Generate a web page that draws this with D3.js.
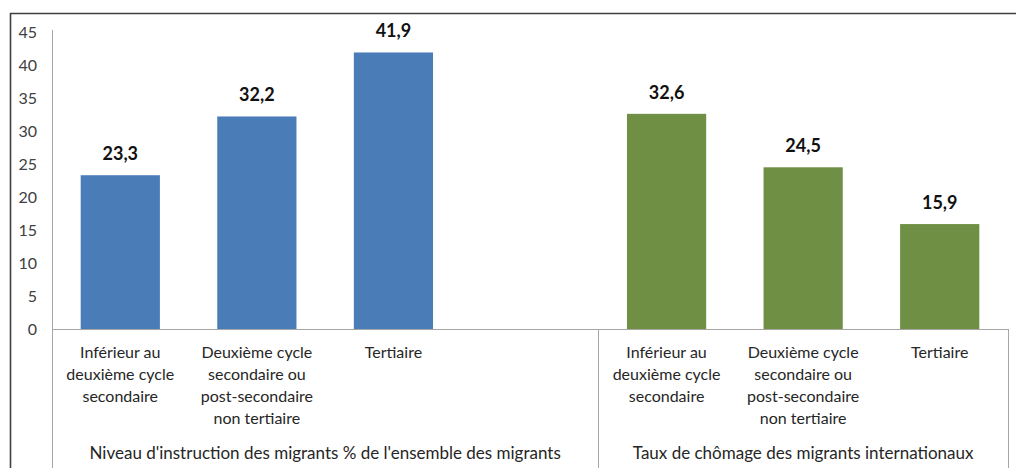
<!DOCTYPE html>
<html>
<head>
<meta charset="utf-8">
<script src="https://cdn.jsdelivr.net/npm/d3@7"></script>
<style>
  body { margin: 0; background: #fff; }
  svg { display: block; font-family: Lato, "Open Sans", sans-serif; }
</style>
</head>
<body>
<div id="chart"></div>
<script>
// data
var groupNames = ["Niveau d'instruction des migrants % de l'ensemble des migrants",
                  "Taux de chômage des migrants internationaux"];
var categoryLines = [
  ["Inférieur au", "deuxième cycle", "secondaire"],
  ["Deuxième cycle", "secondaire ou", "post-secondaire", "non tertiaire"],
  ["Tertiaire"]
];
var valuesInstruction = [23.3, 32.2, 41.9];
var valuesChomage = [32.6, 24.5, 15.9];
var yTicks = [0, 5, 10, 15, 20, 25, 30, 35, 40, 45];
var groupColors = ["#4a7cb8", "#6f8f45"];

/* ---------------------------------------------------------------*/
var width = 1016, height = 468;
var plot_left = 52, plot_right = 1008, plot_top = 32, plot_bottom = 329;

var svg = d3.select('#chart').append('svg')
      .attr('width', width)
      .attr('height', height);

// slots : 3 bars + empty slot for group 1, 3 bars for group 2
var slots = ['g0_0', 'g0_1', 'g0_2', 'g0_gap', 'g1_0', 'g1_1', 'g1_2'];
var bars = [];
valuesInstruction.forEach((v, i) => bars.push({slot: 'g0_' + i, value: v, group: 0, cat: i}));
valuesChomage.forEach((v, i) => bars.push({slot: 'g1_' + i, value: v, group: 1, cat: i}));

var x = d3.scaleBand().domain(slots).range([plot_left, plot_right]).paddingInner(0.42).paddingOuter(0.21);
var y = d3.scaleLinear().domain([0, 45]).range([plot_bottom, plot_top]);
var step = x.step();
var slotCenter = s => x(s) + x.bandwidth() / 2;

// outer frame (top and left)
svg.append('path')
  .attr('d', `M10.5,${height} V13.5 H${width}`)
  .attr('fill', 'none')
  .attr('stroke', '#404040')
  .attr('stroke-width', 1.6);

// y axis
var yAxis = d3.axisLeft(y).tickValues(yTicks).tickSize(0).tickPadding(15);
var yg = svg.append('g').attr('transform', `translate(${plot_left},0)`).call(yAxis);
yg.select('.domain').remove();
yg.selectAll('text').attr('fill', '#404040').style('font-size', '16px').attr('font-family', 'Lato, sans-serif');

// axis lines
var axisColor = '#a6a6a6';
svg.append('line')
  .attr('x1', plot_left + 0.5).attr('x2', plot_left + 0.5)
  .attr('y1', y(45) - 2).attr('y2', height)
  .attr('stroke', axisColor);
svg.append('line')
  .attr('x1', plot_left).attr('x2', plot_right)
  .attr('y1', y(0) + 0.5).attr('y2', y(0) + 0.5)
  .attr('stroke', axisColor);
// group separators
var sepX = [x('g1_0') - (step - x.bandwidth()) / 2, plot_right];
sepX.forEach(sx => {
  svg.append('line')
    .attr('x1', Math.round(sx) + 0.5).attr('x2', Math.round(sx) + 0.5)
    .attr('y1', y(0)).attr('y2', height)
    .attr('stroke', axisColor);
});

// bars
svg.selectAll('rect.bar').data(bars).enter().append('rect')
  .attr('class', 'bar')
  .attr('x', d => x(d.slot))
  .attr('width', x.bandwidth())
  .attr('y', d => y(d.value))
  .attr('height', d => y(0) - y(d.value))
  .attr('fill', d => groupColors[d.group]);

// value labels
svg.selectAll('text.val').data(bars).enter().append('text')
  .attr('class', 'val')
  .attr('x', d => slotCenter(d.slot))
  .attr('y', d => y(d.value) - 15)
  .attr('text-anchor', 'middle')
  .attr('fill', '#111')
  .style('font-size', '18px')
  .style('font-weight', 'bold')
  .text(d => d3.format('.1f')(d.value).replace('.', ','));

// category labels
bars.forEach(d => {
  var t = svg.append('text')
    .attr('x', slotCenter(d.slot))
    .attr('y', 358)
    .attr('text-anchor', 'middle')
    .attr('fill', '#262626')
    .style('font-size', '16px');
  categoryLines[d.cat].forEach((line, k) => {
    t.append('tspan').attr('x', slotCenter(d.slot)).attr('dy', k === 0 ? 0 : 22).text(line);
  });
});

// group labels
var groupBounds = [[plot_left, sepX[0]], [sepX[0], plot_right]];
groupNames.forEach((g, i) => {
  svg.append('text')
    .attr('x', (groupBounds[i][0] + groupBounds[i][1]) / 2)
    .attr('y', 459)
    .attr('text-anchor', 'middle')
    .attr('fill', '#262626')
    .style('font-size', '17px')
    .text(g);
});
</script>
</body>
</html>
